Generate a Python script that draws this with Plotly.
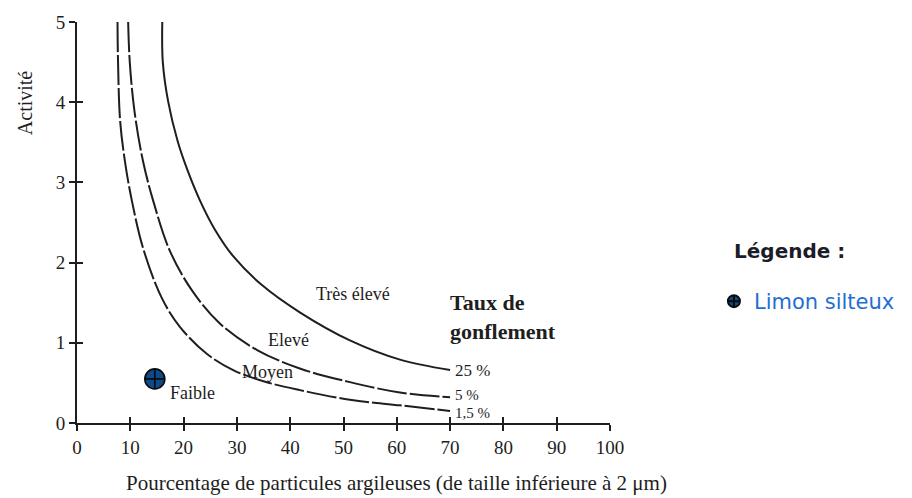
import plotly.graph_objects as go

# --- data ---
x_15 = [7.6, 7.7, 8.1, 9.0, 10.3, 12.4, 15.9, 19.3, 24.4, 29.3, 35.0, 41.8, 51.2, 60.6, 70.0]
y_15 = [5.0, 4.5, 3.76, 3.26, 2.77, 2.18, 1.56, 1.20, 0.86, 0.66, 0.52, 0.41, 0.29, 0.22, 0.15]

x_5 = [9.6, 9.9, 10.8, 12.4, 14.3, 17.4, 21.6, 26.8, 33.8, 41.8, 51.2, 60.6, 70.0]
y_5 = [5.0, 4.5, 3.88, 3.26, 2.77, 2.15, 1.65, 1.24, 0.91, 0.68, 0.51, 0.38, 0.32]

x_25 = [16.0, 16.1, 17.1, 18.9, 20.8, 23.1, 25.8, 29.3, 34.7, 41.8, 51.2, 60.6, 70.0]
y_25 = [5.0, 4.5, 4.01, 3.51, 3.14, 2.77, 2.42, 2.08, 1.72, 1.38, 1.03, 0.79, 0.66]

sample_x = [14.6]
sample_y = [0.55]
sample_name = "Limon silteux"

curve_labels = ["1,5 %", "5 %", "25 %"]
zone_labels = ["Faible", "Moyen", "Elevé", "Très élevé"]
zone_x = [21.6, 35.8, 39.6, 51.8]
zone_y = [0.38, 0.63, 1.03, 1.61]

x_ticks = [0, 10, 20, 30, 40, 50, 60, 70, 80, 90, 100]
y_ticks = [0, 1, 2, 3, 4, 5]

SERIF = "Liberation Serif, Times New Roman, serif"
INK = "#1e1e1e"

fig = go.Figure()

dashes = ["30px,3px", "30px,3px", "solid"]
for (xs, ys), d in zip([(x_15, y_15), (x_5, y_5), (x_25, y_25)], dashes):
    fig.add_trace(go.Scatter(x=xs, y=ys, mode="lines",
                             line=dict(color=INK, width=2, shape="spline", smoothing=1.0, dash=d),
                             showlegend=False, hoverinfo="skip"))

fig.add_trace(go.Scatter(
    x=sample_x, y=sample_y, mode="markers", name=sample_name,
    marker=dict(symbol="circle-cross", size=20, color="#0c4a8a", line=dict(color="#0a0a0a", width=1.6)),
    showlegend=True))

# invisible trace to hold overlay axes (for ticks crossing the axis lines)
fig.add_trace(go.Scatter(x=[0], y=[0], xaxis="x2", yaxis="y2", mode="markers",
                         marker=dict(opacity=0), showlegend=False, hoverinfo="skip"))

annotations = []
for t, xv, yv in zip(zone_labels, zone_x, zone_y):
    annotations.append(dict(x=xv, y=yv, text=t, showarrow=False, xref="x", yref="y",
                            font=dict(family=SERIF, size=18, color=INK)))

end_x = [x_15[-1], x_5[-1], x_25[-1]]
end_y = [y_15[-1], y_5[-1], y_25[-1]]
shifts = [-2, 2, 0]
sizes = [15, 15, 17]
for t, xv, yv, ys, fs in zip(curve_labels, end_x, end_y, shifts, sizes):
    annotations.append(dict(x=xv, y=yv, text=t, showarrow=False, xref="x", yref="y",
                            xanchor="left", xshift=3, yshift=ys,
                            font=dict(family=SERIF, size=fs, color=INK)))

annotations.append(dict(x=69.6, y=1.32, text="<b>Taux de<br>gonflement</b>", showarrow=False,
                        xref="x", yref="y", xanchor="left", align="left",
                        font=dict(family=SERIF, size=22, color=INK)))

annotations.append(dict(x=0.6, y=-0.149, xref="paper", yref="paper", showarrow=False,
                        xanchor="center", yanchor="middle",
                        text="Pourcentage de particules argileuses (de taille inférieure à 2 μm)",
                        font=dict(family=SERIF, size=21, color=INK)))
annotations.append(dict(x=-0.0976, y=0.80, xref="paper", yref="paper", showarrow=False, textangle=-90,
                        xanchor="center", yanchor="middle",
                        text="Activité", font=dict(family=SERIF, size=20, color=INK)))

annotations.append(dict(x=1.228, y=0.43, xref="paper", yref="paper", showarrow=False, xanchor="left",
                        text="<b>Légende :</b>",
                        font=dict(family="DejaVu Sans, sans-serif", size=20, color="#1b1b2a")))

fig.update_layout(
    width=912, height=498,
    margin=dict(l=77, r=302, t=20, b=75),
    paper_bgcolor="white", plot_bgcolor="white",
    showlegend=True,
    legend=dict(x=1.195, y=0.303, xanchor="left", yanchor="middle", bgcolor="rgba(0,0,0,0)",
                font=dict(family="DejaVu Sans, sans-serif", size=21, color="#1f6fd1"),
                itemsizing="constant"),
    annotations=annotations,
    xaxis=dict(range=[0, 100], tickvals=x_ticks, ticks="outside", ticklen=6, tickwidth=1.5, tickcolor=INK,
               showline=True, linecolor=INK, linewidth=2, showgrid=False, zeroline=False,
               tickfont=dict(family=SERIF, size=19, color=INK)),
    yaxis=dict(range=[0, 5], tickvals=y_ticks, ticks="outside", ticklen=6, tickwidth=1.5, tickcolor=INK,
               showline=True, linecolor=INK, linewidth=2, showgrid=False, zeroline=False,
               tickfont=dict(family=SERIF, size=19, color=INK)),
    xaxis2=dict(range=[0, 100], tickvals=x_ticks, ticks="inside", ticklen=6, tickwidth=1.5, tickcolor=INK,
                overlaying="x", anchor="y", side="bottom", showticklabels=False, showline=False,
                showgrid=False, zeroline=False),
    yaxis2=dict(range=[0, 5], tickvals=y_ticks, ticks="inside", ticklen=6, tickwidth=1.5, tickcolor=INK,
                overlaying="y", anchor="x", side="left", showticklabels=False, showline=False,
                showgrid=False, zeroline=False),
)

fig.write_html("out.html")
